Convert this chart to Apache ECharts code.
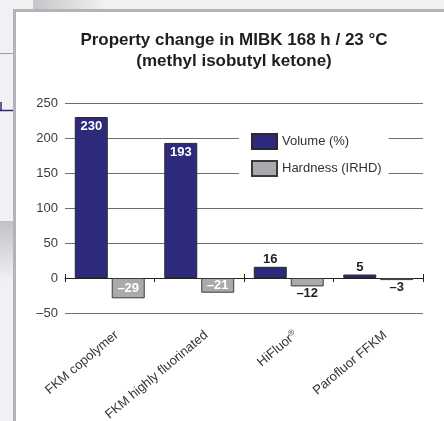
<!DOCTYPE html>
<html>
<head>
    <meta charset="utf-8" />
    <title>Property change in MIBK</title>
    <script src="https://cdn.jsdelivr.net/npm/echarts@6/dist/echarts.min.js"></script>
    <style>
        html, body { margin: 0; padding: 0; background: #f1f1f3; }
        #chart { width: 444px; height: 421px; }
    </style>
</head>
<body>
<div id="chart"></div>
<script type="text/javascript">
    // data
    var categories = ['FKM copolymer', 'FKM highly fluorinated', 'HiFluor®', 'Parofluor FFKM'];
    var volume = [230, 193, 16, 5];
    var hardness = [-29, -21, -12, -3];
    var yMin = -50, yMax = 250, yStep = 50;

    var navy = '#2d2a7b';
    var grey = '#a9aaae';
    var dash = function (v) { return String(v).replace('-', '\u2013'); };

    // big bars carry the label inside, small ones outside
    var volumeData = volume.map(function (v) {
        return v > 50
            ? { value: v, label: { position: 'insideTop', distance: 3, color: '#fff' } }
            : { value: v, label: { position: 'top', distance: 1, color: '#222' } };
    });
    var hardnessData = hardness.map(function (v) {
        return v < -15
            ? { value: v, label: { position: 'inside', color: '#fff' } }
            : { value: v, label: { position: 'bottom', distance: 1, color: '#222' } };
    });

    var chart = echarts.init(document.getElementById('chart'));

    var option = {
        backgroundColor: '#f1f1f3',
        animation: false,
        textStyle: { fontFamily: 'Liberation Sans, Arial, sans-serif' },
        graphic: [
            // page scraps round the panel
            { type: 'rect', z: -20, shape: { x: 33, y: 0, width: 70, height: 10 },
              style: { fill: new echarts.graphic.LinearGradient(0, 0, 1, 0, [
                  { offset: 0, color: '#c6c6ca' }, { offset: 1, color: '#efeff1' }]) } },
            { type: 'line', z: -20, shape: { x1: 0, y1: 53.5, x2: 13, y2: 53.5 },
              style: { stroke: '#9c9ca0', lineWidth: 1 } },
            { type: 'line', z: -20, shape: { x1: 0, y1: 110.5, x2: 13, y2: 110.5 },
              style: { stroke: navy, lineWidth: 1.5 } },
            { type: 'line', z: -20, shape: { x1: 1, y1: 102, x2: 1, y2: 110 },
              style: { stroke: navy, lineWidth: 1.5 } },
            { type: 'rect', z: -20, shape: { x: 0, y: 221, width: 13, height: 60 },
              style: { fill: new echarts.graphic.LinearGradient(0, 0, 0, 1, [
                  { offset: 0, color: '#c2c2c6' }, { offset: 1, color: '#f1f1f3' }]) } },
            // white panel
            { type: 'rect', z: -10, shape: { x: 14.5, y: 10.5, width: 440, height: 420 },
              style: { fill: '#fff', stroke: '#b4b4b8', lineWidth: 3 } }
        ],
        title: {
            text: 'Property change in MIBK 168 h / 23 °C\n(methyl isobutyl ketone)',
            left: 234,
            top: 30,
            textAlign: 'center',
            padding: 0,
            textStyle: { fontSize: 17, fontWeight: 'bold', color: '#1e1e1e', lineHeight: 21 }
        },
        legend: {
            orient: 'vertical',
            left: 239,
            top: 125,
            padding: [8, 7, 8, 12],
            backgroundColor: '#fff',
            itemWidth: 25,
            itemHeight: 15,
            itemGap: 10,
            icon: 'rect',
            textStyle: { fontSize: 13, color: '#333' }
        },
        grid: { left: 65, right: 21, top: 103, bottom: 108, outerBoundsMode: 'none' },
        xAxis: [
            {
                type: 'category',
                data: categories,
                axisLine: { onZero: true, lineStyle: { color: '#222', width: 1 } },
                axisTick: { show: true, length: 4, lineStyle: { color: '#222' } },
                axisLabel: {
                    rotate: 40,
                    margin: 12,
                    fontSize: 13,
                    lineHeight: 22,
                    verticalAlign: 'top',
                    color: '#333',
                    interval: 0,
                    formatter: function (v) {
                        return v.replace('®', '{sup|®}');
                    },
                    rich: { sup: { fontSize: 8, verticalAlign: 'top', color: '#333', padding: [4, 0, 0, 0] } }
                }
            },
            {
                // upper half of the ticks that cross the zero line
                type: 'category',
                data: categories,
                position: 'bottom',
                offset: -35,
                axisLine: { show: false, onZero: false },
                axisTick: { show: true, inside: true, length: 4, lineStyle: { color: '#222' } },
                axisLabel: { show: false },
                splitLine: { show: false }
            }
        ],
        yAxis: {
            type: 'value',
            min: yMin,
            max: yMax,
            interval: yStep,
            axisLine: { show: false },
            axisTick: { show: false },
            axisLabel: { fontSize: 13, color: '#3c3c3c', margin: 7, formatter: dash },
            splitLine: { lineStyle: { color: '#6e6e6e', width: 1 } }
        },
        series: [
            {
                name: 'Volume (%)',
                type: 'bar',
                barWidth: 33,
                barGap: '12%',
                data: volumeData,
                itemStyle: { color: navy, borderColor: '#2a2a2a', borderWidth: 1 },
                label: { show: true, fontSize: 13, fontWeight: 'bold', formatter: function (p) { return dash(p.value); } }
            },
            {
                name: 'Hardness (IRHD)',
                type: 'bar',
                barWidth: 33,
                data: hardnessData,
                itemStyle: { color: grey, borderColor: '#3a3a3a', borderWidth: 1 },
                label: { show: true, fontSize: 13, fontWeight: 'bold', formatter: function (p) { return dash(p.value); } }
            }
        ]
    };

    chart.setOption(option);
</script>
</body>
</html>
